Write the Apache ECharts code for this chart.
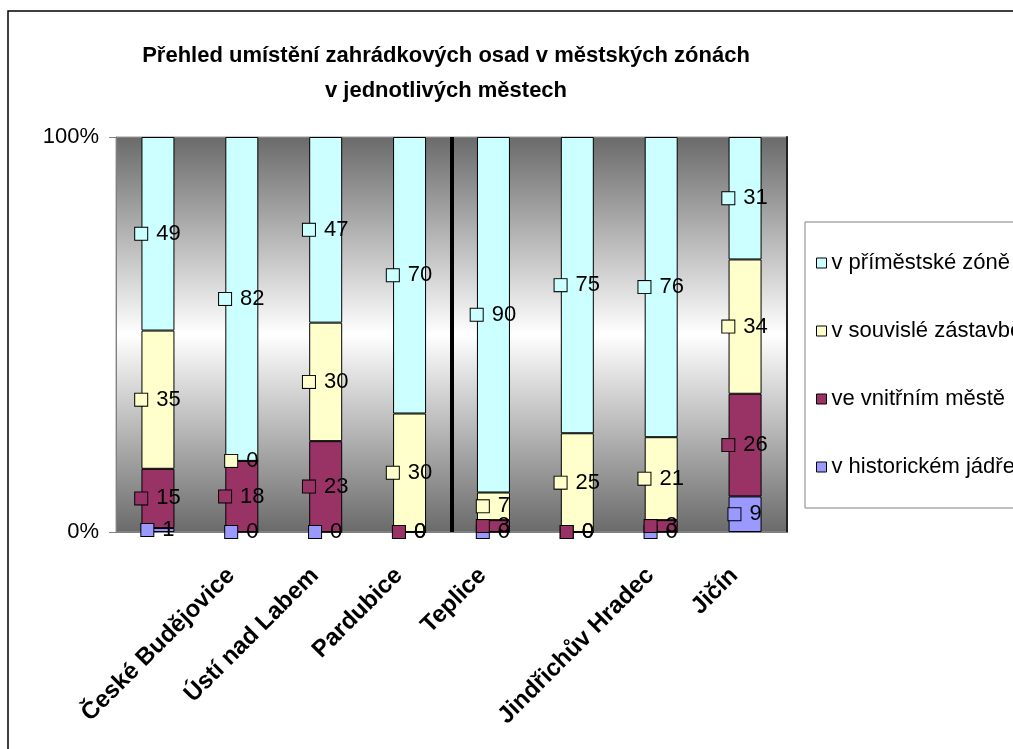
<!DOCTYPE html>
<html>
<head>
<meta charset="utf-8">
<title>Přehled umístění zahrádkových osad</title>
<script src="https://cdn.jsdelivr.net/npm/echarts@6/dist/echarts.min.js"></script>
<style>
html, body { margin: 0; padding: 0; background: #fff; }
#chart { width: 1013px; height: 749px; }
</style>
</head>
<body>
<div id="chart"></div>
<script>
// poradi sloupcu; jmena 5. a 8. mesta v obrazku nejsou citelna
var cities = ['České Budějovice', 'Ústí nad Labem', 'Pardubice', 'Teplice', '', 'Jindřichův Hradec', 'Jičín', ''];
var yTicks = [0, 100];

// podily zon v % (hodnoty z popisku)
var historicke = [1, 0, 0, 0, 0, 0, 0, 9];
var vnitrni = [15, 18, 23, 0, 3, 0, 3, 26];
var souvisla = [35, 0, 30, 30, 7, 25, 21, 34];
var primestska = [49, 82, 47, 70, 90, 75, 76, 31];

var seriesNames = ['v historickém jádře', 've vnitřním městě', 'v souvislé zástavbě', 'v příměstské zóně'];
var seriesColors = ['#9999ff', '#993366', '#ffffcc', '#ccffff'];
var seriesData = [historicke, vnitrni, souvisla, primestska];

var font = '"Liberation Sans", Arial, sans-serif';

var series = seriesData.map(function (data, i) {
	return {
		name: seriesNames[i],
		type: 'bar',
		stack: 'total',
		barWidth: 33,
		xAxisIndex: 0,
		yAxisIndex: 0,
		data: data,
		itemStyle: { color: seriesColors[i], borderColor: '#000', borderWidth: 1 },
		label: {
			show: true,
			position: 'inside',
			// ctverecek s barvou rady jako v Excelu
			formatter: function (p) {
				return '{key|}{gap|}{val|' + p.value + '}';
			},
			rich: {
				key: { width: 12, height: 12, backgroundColor: seriesColors[i], borderColor: '#000', borderWidth: 1 },
				gap: { width: 9 },
				val: { fontSize: 22, color: '#000', fontFamily: font }
			}
		}
	};
});

var chart = echarts.init(document.getElementById('chart'));
chart.setOption({
	animation: false,
	backgroundColor: '#fff',
	textStyle: { fontFamily: font },
	title: {
		text: 'Přehled umístění zahrádkových osad v městských zónách\nv jednotlivých městech',
		left: 441,
		top: 33,
		textAlign: 'center',
		textStyle: { fontSize: 22, fontWeight: 'bold', color: '#000', lineHeight: 35, fontFamily: font }
	},
	legend: {
		orient: 'vertical',
		left: 805,
		top: 222,
		data: seriesNames.slice().reverse(),
		padding: [30, 40, 30, 11],
		itemGap: 46,
		itemWidth: 10,
		itemHeight: 10,
		icon: 'rect',
		itemStyle: { borderColor: '#000', borderWidth: 1 },
		borderColor: '#808080',
		borderWidth: 1,
		textStyle: { fontSize: 22, color: '#000', fontFamily: font }
	},
	graphic: [{
		type: 'rect',
		shape: { x: 8, y: 11, width: 1100, height: 800 },
		style: { fill: 'none', stroke: '#000', lineWidth: 1.5 },
		silent: true,
		z: -10
	}],
	grid: [{
		left: 116, top: 137, width: 671, height: 395,
		show: true,
		borderColor: '#999',
		borderWidth: 1,
		backgroundColor: {
			type: 'linear', x: 0, y: 0, x2: 0, y2: 1,
			colorStops: [
				{ offset: 0, color: '#6a6a6a' },
				{ offset: 0.5, color: '#ffffff' },
				{ offset: 1, color: '#6a6a6a' }
			]
		}
	}, {
		// jen pro popisky mest, posunute doprava jako v predloze
		left: 189, top: 137, width: 671, height: 395, show: false
	}],
	xAxis: [{
		type: 'category',
		gridIndex: 0,
		data: cities,
		axisLine: { lineStyle: { color: '#808080' } },
		axisTick: { length: 7, interval: function (i) { return i % 4 === 0; }, lineStyle: { color: '#808080' } },
		axisLabel: { show: false },
		// cara mezi 4. a 5. mestem, krajni cary pruhledne
		splitLine: {
			show: true,
			interval: function (i) { return i === 0 || i === 4; },
			lineStyle: { color: ['rgba(0,0,0,0)', '#000', 'rgba(0,0,0,0)'], width: 4 }
		}
	}, {
		type: 'category',
		gridIndex: 1,
		data: cities,
		axisLine: { show: false },
		axisTick: { show: false },
		splitLine: { show: false },
		axisLabel: {
			interval: 0,
			rotate: 45,
			margin: 40,
			fontSize: 24,
			fontWeight: 'bold',
			color: '#000',
			fontFamily: font
		}
	}],
	yAxis: [{
		type: 'value',
		gridIndex: 0,
		min: yTicks[0],
		max: yTicks[1],
		interval: yTicks[1] - yTicks[0],
		axisLine: { show: true, lineStyle: { color: '#808080' } },
		axisTick: { show: true, length: 7, lineStyle: { color: '#808080' } },
		splitLine: { show: false },
		axisLabel: {
			formatter: function (v) { return v + '%'; },
			fontSize: 22,
			color: '#000',
			margin: 17,
			fontFamily: font
		}
	}, {
		type: 'value', gridIndex: 1, min: 0, max: 100, show: false
	}, {
		type: 'value',
		gridIndex: 0,
		position: 'right',
		min: 0, max: 100,
		axisLine: { show: true, lineStyle: { color: '#222', width: 2 } },
		axisTick: { show: false },
		axisLabel: { show: false },
		splitLine: { show: false }
	}],
	series: series
});
</script>
</body>
</html>
